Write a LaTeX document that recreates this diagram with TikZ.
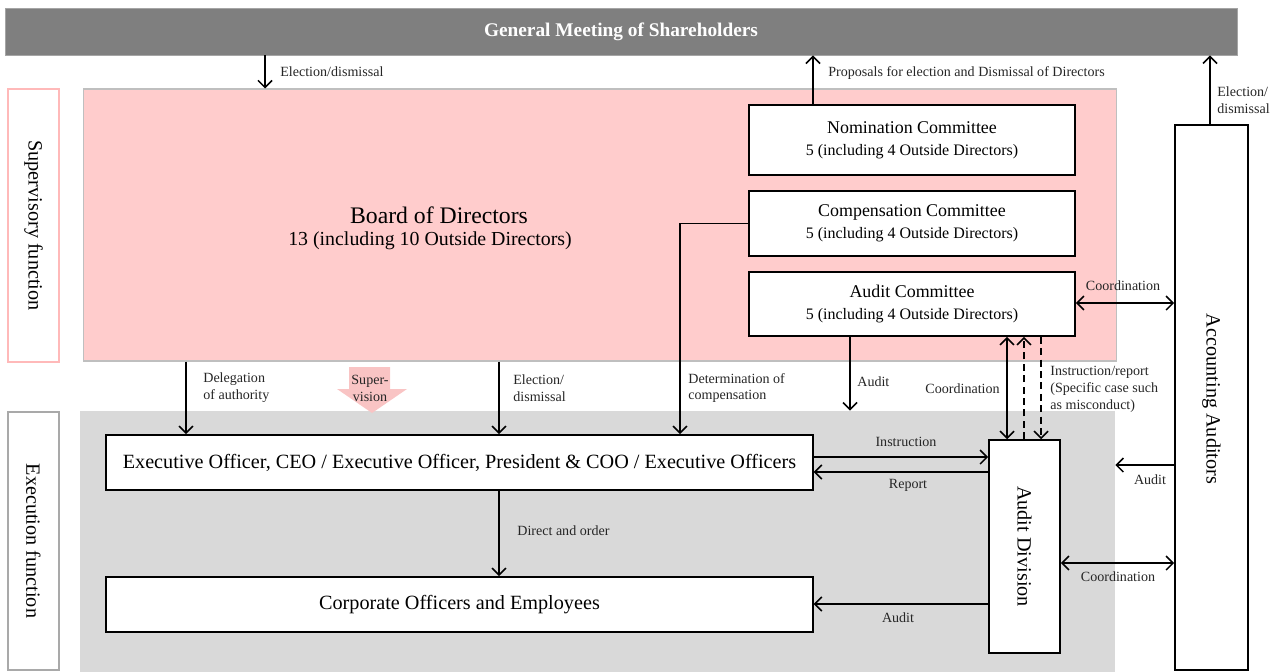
\documentclass[tikz,border=0pt]{standalone}
\usepackage{fontspec}
\setmainfont{Liberation Serif}
\usetikzlibrary{arrows.meta}

\definecolor{gmsgray}{HTML}{7F7F7F}
\definecolor{suppink}{HTML}{FFCCCC}
\definecolor{supline}{HTML}{FFB9B9}
\definecolor{arrpink}{HTML}{F9C4C4}
\definecolor{exegray}{HTML}{D9D9D9}
\definecolor{exeline}{HTML}{A9A9A9}

\begin{document}
\begin{tikzpicture}[x=0.02cm, y=-0.02cm,
  box/.style={draw=black, line width=0.9pt, fill=white, inner sep=0pt, align=center},
  side/.style={draw, line width=1.1pt, fill=white, inner sep=0pt, minimum height=1.02cm, font=\fontsize{11.5}{13}\selectfont},
  lbl/.style={font=\fontsize{8}{9.6}\selectfont, align=left, inner sep=0pt, text=black!85},
  arr/.style={line width=0.9pt, -{Straight Barb[length=4pt,width=8pt]}},
  darr/.style={line width=0.9pt, {Straight Barb[length=4pt,width=8pt]}-{Straight Barb[length=4pt,width=8pt]}},
  dasharr/.style={arr, dash pattern=on 4pt off 2.5pt}]
\useasboundingbox (0,0) rectangle (1280,672);

% shareholders bar
\node (gms) [fill=gmsgray, draw=gmsgray!70!white, minimum width=24.64cm, minimum height=0.94cm, inner sep=0pt, text=white, font=\bfseries\fontsize{11}{13}\selectfont] at (621,31.5) {General Meeting of Shareholders};

% the two areas
\node (board) [fill=suppink, draw=black!25, line width=0.6pt, minimum width=20.68cm, minimum height=5.44cm, inner sep=0pt] at (600,225) {};
\node (exearea) [fill=exegray, minimum width=20.7cm, minimum height=5.22cm, inner sep=0pt] at (597.5,541.5) {};

\node (supfn) [side, draw=supline, rotate=-90, minimum width=5.46cm] at (33.5,225.5) {Supervisory function};
\node (exefn) [side, draw=exeline, rotate=-90, minimum width=5.16cm] at (33.5,541) {Execution function};

\node (boardname) [inner sep=0pt, font=\fontsize{13.5}{15}\selectfont] at (439,215) {Board of Directors};
\node (boardnum) [inner sep=0pt, font=\fontsize{11.3}{13}\selectfont] at (430,241) {13 (including 10 Outside Directors)};

% committees
\node (nom) [box, minimum width=6.52cm, minimum height=1.4cm, font=\fontsize{10.2}{12.3}\selectfont] at (912,140) {Nomination Committee\\{\fontsize{9.1}{12.3}\selectfont 5 (including 4 Outside Directors)}};
\node (comp) [box, minimum width=6.52cm, minimum height=1.3cm, font=\fontsize{10.2}{12.3}\selectfont] at (912,223.5) {Compensation Committee\\{\fontsize{9.1}{12.3}\selectfont 5 (including 4 Outside Directors)}};
\node (aud) [box, minimum width=6.52cm, minimum height=1.28cm, font=\fontsize{10.2}{12.3}\selectfont] at (912,304) {Audit Committee\\{\fontsize{9.1}{12.3}\selectfont 5 (including 4 Outside Directors)}};

% execution side
\node (eo) [box, minimum width=14.14cm, minimum height=1.1cm, font=\fontsize{11.5}{13}\selectfont] at (459.5,462.5) {Executive Officer, CEO / Executive Officer, President \& COO / Executive Officers};
\node (corp) [box, minimum width=14.14cm, minimum height=1.1cm, font=\fontsize{11.5}{13}\selectfont] at (459.5,604.5) {Corporate Officers and Employees};
\node (adiv) [box, minimum width=1.42cm, minimum height=4.26cm] at (1024.5,546.5) {};
\node (adivtxt) [rotate=-90, inner sep=0pt, font=\fontsize{11.5}{13}\selectfont] at (adiv.center) {Audit Division};
\node (acc) [box, minimum width=1.46cm, minimum height=10.9cm] at (1211.5,397.5) {};
\node (acctxt) [rotate=-90, inner sep=0pt, font=\fontsize{11.5}{13}\selectfont] at (1211.5,399) {Accounting Auditors};

% where the connectors run
\coordinate (xelect) at (265,0);
\coordinate (xprop) at (813,0);
\coordinate (xaccel) at (1210,0);
\coordinate (xdeleg) at (186,0);
\coordinate (xelectb) at (499,0);
\coordinate (xcomp) at (680,0);
\coordinate (xaudit) at (850,0);
\coordinate (xcoord) at (1007,0);
\coordinate (xinsup) at (1024,0);
\coordinate (xinsdown) at (1041,0);
\coordinate (ycoorda) at (0,303);
\coordinate (yinst) at (0,457);
\coordinate (yrep) at (0,472);
\coordinate (yaccaud) at (0,465);
\coordinate (ycoordb) at (0,563);
\coordinate (ycorpaud) at (0,604);

\draw[arr] (gms.south -| xelect) -- (board.north -| xelect);
\draw[arr] (nom.north -| xprop) -- (gms.south -| xprop);
\draw[arr] (acc.north -| xaccel) -- (gms.south -| xaccel);
\draw[arr] (board.south -| xdeleg) -- (eo.north -| xdeleg);
\draw[arr] (board.south -| xelectb) -- (eo.north -| xelectb);
\draw[arr] (comp.west) -| (eo.north -| xcomp);
\draw[arr] (aud.south -| xaudit) -- (exearea.north -| xaudit);
\draw[darr] (aud.south -| xcoord) -- (adiv.north -| xcoord);
\draw[dasharr] (adiv.north -| xinsup) -- (aud.south -| xinsup);
\draw[dasharr] (aud.south -| xinsdown) -- (adiv.north -| xinsdown);
\draw[darr] (aud.east |- ycoorda) -- (acc.west |- ycoorda);
\draw[arr] (eo.east |- yinst) -- (adiv.west |- yinst);
\draw[arr] (adiv.west |- yrep) -- (eo.east |- yrep);
\draw[arr] (acc.west |- yaccaud) -- (exearea.east |- yaccaud);
\draw[darr] (adiv.east |- ycoordb) -- (acc.west |- ycoordb);
\draw[arr] (adiv.west |- ycorpaud) -- (corp.east |- ycorpaud);
\draw[arr] (eo.south -| xelectb) -- (corp.north -| xelectb);

% supervision block arrow
\fill[arrpink] (349,367) -- (390,367) -- (390,389) -- (407,389) -- (372,413) -- (337,389) -- (349,389) -- cycle;
\node (lsuper) [lbl, align=center] at (370,388) {Super-\\vision};

% labels
\node (lelect) [lbl, anchor=west] at (280,72) {Election/dismissal};
\node (lprop) [lbl, anchor=west] at (828,73) {Proposals for election and Dismissal of Directors};
\node (laccel) [lbl, anchor=west] at (1217,100) {Election/\\dismissal};
\node (ldeleg) [lbl, anchor=west] at (203,388) {Delegation\\of authority};
\node (lelectb) [lbl, anchor=west] at (513,388) {Election/\\dismissal};
\node (lcomp) [lbl, anchor=west] at (688,388) {Determination of\\compensation};
\node (laudit) [lbl, anchor=west] at (857,382) {Audit};
\node (lcoorda) [lbl, anchor=east] at (1000,389) {Coordination};
\node (linsrep) [lbl, anchor=west] at (1050,389) {Instruction/report\\(Specific case such\\as misconduct)};
\node (lcoordb) [lbl] at (1123,286) {Coordination};
\node (linst) [lbl] at (906,442) {Instruction};
\node (lrep) [lbl] at (908,485) {Report};
\node (laccaud) [lbl] at (1150,480) {Audit};
\node (lcoordc) [lbl] at (1118,577) {Coordination};
\node (lcorpaud) [lbl] at (898,618) {Audit};
\node (ldirect) [lbl, anchor=west] at (517,531) {Direct and order};
\end{tikzpicture}
\end{document}
